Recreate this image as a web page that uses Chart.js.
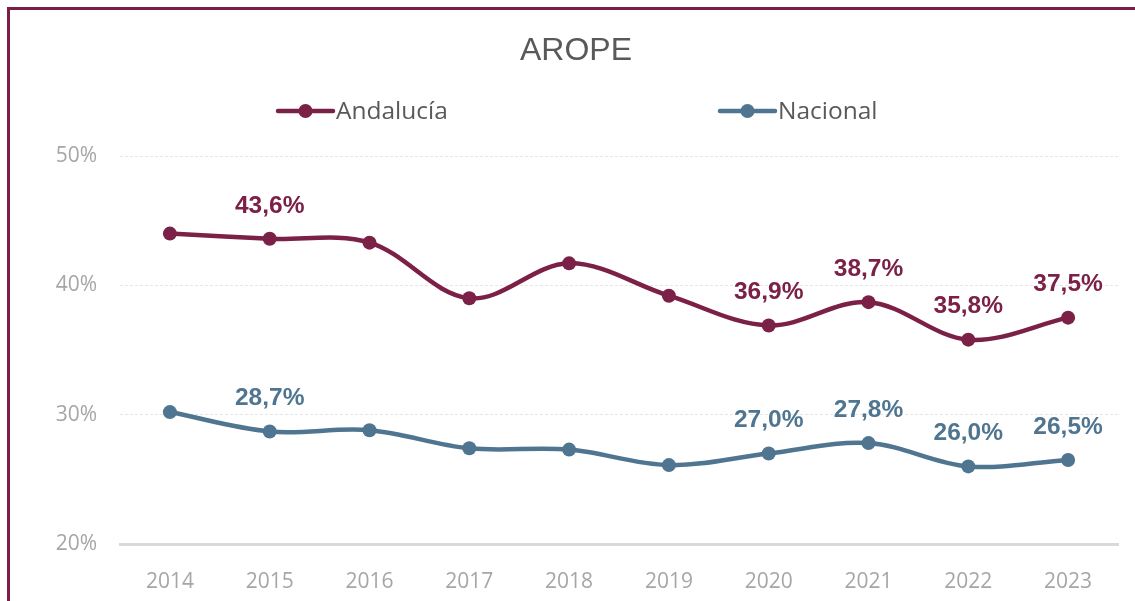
<!DOCTYPE html>
<html>
<head>
<meta charset="utf-8">
<script src="https://cdn.jsdelivr.net/npm/chart.js@4/dist/chart.umd.min.js"></script>
<style>
  html, body { margin: 0; padding: 0; background: #ffffff; overflow: hidden; }
  #wrap { position: relative; width: 1135px; height: 601px; }
  #frame { position: absolute; left: 7px; top: 7px; width: 1300px; height: 800px;
           border-left: 3px solid #7b1f45; border-top: 3px solid #7b1f45; pointer-events: none; }
  canvas { position: absolute; left: 0; top: 0; }
</style>
</head>
<body>
<div id="wrap">
  <canvas id="c" width="1135" height="601"></canvas>
  <div id="frame"></div>
</div>
<script>
const chartTitle = 'AROPE';
const categories = ['2014', '2015', '2016', '2017', '2018', '2019', '2020', '2021', '2022', '2023'];
const seriesNames = ['Andalucía', 'Nacional'];
const andalucia = [44.0, 43.6, 43.3, 39.0, 41.7, 39.2, 36.9, 38.7, 35.8, 37.5];
const nacional  = [30.2, 28.7, 28.8, 27.4, 27.3, 26.1, 27.0, 27.8, 26.0, 26.5];
const andaluciaLabeled = ['2015', '2020', '2021', '2022', '2023'];
const nacionalLabeled  = ['2015', '2020', '2021', '2022', '2023'];
const yMin = 20, yMax = 50, yStep = 10;

const colorAnd = '#7b2046';
const colorNac = '#4f7590';

function fmt(v) { return v.toFixed(1).replace('.', ',') + '%'; }

const overlayPlugin = {
  id: 'overlay',
  afterDraw(chart) {
    const ctx = chart.ctx;
    ctx.save();
    // title
    ctx.fillStyle = '#595959';
    ctx.font = '32px "Liberation Sans", Arial, sans-serif';
    ctx.textAlign = 'center';
    ctx.textBaseline = 'middle';
    ctx.fillText(chartTitle, 576, 51);
    // legend
    const starts = [278, 720];
    chart.data.datasets.forEach((ds, i) => {
      const x0 = starts[i], y0 = 111;
      ctx.strokeStyle = ds.borderColor;
      ctx.lineWidth = 4.5;
      ctx.lineCap = 'round';
      ctx.beginPath(); ctx.moveTo(x0, y0); ctx.lineTo(x0 + 55, y0); ctx.stroke();
      ctx.fillStyle = ds.borderColor;
      ctx.beginPath(); ctx.arc(x0 + 27.5, y0, 7, 0, Math.PI * 2); ctx.fill();
      ctx.fillStyle = '#595959';
      ctx.font = '24.5px "Open Sans", sans-serif';
      ctx.textAlign = 'left';
      ctx.textBaseline = 'middle';
      ctx.fillText(ds.label, x0 + 58, y0 + 1);
    });
    ctx.restore();
  },
  afterDatasetsDraw(chart) {
    const ctx = chart.ctx;
    ctx.save();
    ctx.font = 'bold 24.5px "Liberation Sans", Arial, sans-serif';
    ctx.textAlign = 'center';
    ctx.textBaseline = 'middle';
    chart.data.datasets.forEach((ds, di) => {
      const meta = chart.getDatasetMeta(di);
      ctx.fillStyle = ds.borderColor;
      ds.labeled.forEach(cat => {
        const i = chart.data.labels.indexOf(cat);
        const pt = meta.data[i];
        ctx.fillText(fmt(ds.data[i]), pt.x, pt.y - 33);
      });
    });
    ctx.restore();
  }
};

new Chart(document.getElementById('c'), {
  type: 'line',
  data: {
    labels: categories,
    datasets: [
      { label: seriesNames[0], data: andalucia, labeled: andaluciaLabeled,
        borderColor: colorAnd, backgroundColor: colorAnd, borderWidth: 4.5,
        pointRadius: 7, pointHoverRadius: 7, pointBackgroundColor: colorAnd, pointBorderWidth: 0,
        tension: 0.35, fill: false },
      { label: seriesNames[1], data: nacional, labeled: nacionalLabeled,
        borderColor: colorNac, backgroundColor: colorNac, borderWidth: 4.5,
        pointRadius: 7, pointHoverRadius: 7, pointBackgroundColor: colorNac, pointBorderWidth: 0,
        tension: 0.35, fill: false }
    ]
  },
  options: {
    responsive: false,
    animation: false,
    events: [],
    layout: { padding: { left: 0, top: 156, right: 17, bottom: 0 } },
    plugins: { legend: { display: false }, title: { display: false }, tooltip: { enabled: false } },
    scales: {
      x: {
        offset: true,
        grid: { display: false },
        border: { display: true, color: '#d9d9d9', width: 3 },
        ticks: { color: '#a6a6a6', font: { family: '"Open Sans", sans-serif', size: 21 }, padding: 17, maxRotation: 0 },
        afterFit(scale) { scale.height = 57; }
      },
      y: {
        min: yMin, max: yMax,
        grid: {
          drawTicks: false,
          color: ctx => (ctx.tick && ctx.tick.value === yMin) ? 'rgba(0,0,0,0)' : '#e6e6e6',
          lineWidth: 1
        },
        border: { display: false, dash: [3, 2] },
        ticks: { stepSize: yStep, color: '#a6a6a6', font: { family: '"Open Sans", sans-serif', size: 21 }, padding: 23,
                 callback: v => v + '%' },
        afterFit(scale) { scale.width = 120; }
      }
    }
  },
  plugins: [overlayPlugin]
});
</script>
</body>
</html>
